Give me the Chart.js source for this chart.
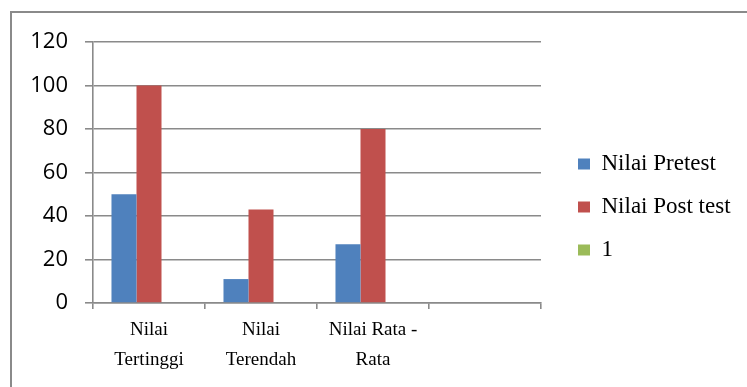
<!DOCTYPE html>
<html>
<head>
<meta charset="utf-8">
<script src="https://cdn.jsdelivr.net/npm/chart.js@4.4.0/dist/chart.umd.min.js"></script>
<style>
    body { margin: 0; background: #fff; overflow: hidden; }
    #frame {
        position: absolute; left: 10px; top: 11px; width: 800px; height: 420px;
        border-top: 2px solid #8a8a8a; border-left: 2px solid #8a8a8a;
    }
    #myChart { position: absolute; left: 0; top: 0; }
</style>
</head>
<body>
<div id="frame"></div>
<canvas id="myChart" width="747" height="387"></canvas>
<script>
// Chart data
const categories = [['Nilai', 'Tertinggi'], ['Nilai', 'Terendah'], ['Nilai Rata -', 'Rata'], ''];
const pretest = [50, 11, 27, null];
const posttest = [100, 43, 80, null];
const seriesOne = [null, null, null, null];
const yTicks = [0, 20, 40, 60, 80, 100, 120];

const gridGrey = '#8a8a8a';

function drawChart() {
    const ctx = document.getElementById('myChart').getContext('2d');
    const chart = new Chart(ctx, {
        type: 'bar',
        data: {
            labels: categories,
            datasets: [
                { label: 'Nilai Pretest', backgroundColor: '#4f81bd', data: pretest },
                { label: 'Nilai Post test', backgroundColor: '#c0504d', data: posttest },
                { label: '1', backgroundColor: '#9bbb59', data: seriesOne }
            ]
        },
        options: {
            responsive: false,
            animation: false,
            devicePixelRatio: 1,
            categoryPercentage: 0.67,
            barPercentage: 1,
            layout: { padding: { top: 42, bottom: 15, left: 0, right: 7 } },
            plugins: {
                tooltip: { enabled: false },
                legend: {
                    position: 'right',
                    maxWidth: 182,
                    labels: {
                        boxWidth: 12,
                        boxHeight: 11,
                        padding: 20,
                        color: '#000',
                        font: { family: '"Liberation Serif", "Times New Roman", serif', size: 23 }
                    }
                }
            },
            scales: {
                x: {
                    grid: { drawOnChartArea: false, drawTicks: true, tickLength: 6, color: gridGrey, lineWidth: 1.6 },
                    border: { display: true, color: gridGrey, width: 1.6 },
                    ticks: {
                        color: '#000',
                        padding: 6,
                        maxRotation: 0,
                        autoSkip: false,
                        font: { family: '"Liberation Serif", "Times New Roman", serif', size: 19, lineHeight: 1.58 }
                    },
                    afterFit: (scale) => { scale.height = 69; }
                },
                y: {
                    min: 0,
                    max: 120,
                    afterBuildTicks: (scale) => { scale.ticks = yTicks.map((v) => ({ value: v })); },
                    grid: { tickLength: 8, color: gridGrey, lineWidth: 1.6 },
                    border: { display: true, color: gridGrey, width: 1.6 },
                    ticks: {
                        color: '#000',
                        padding: 17,
                        font: { family: '"Open Sans", "Liberation Sans", sans-serif', size: 22 }
                    },
                    afterFit: (scale) => { scale.width = 93; }
                },
                // empty spacer between the plot and the legend
                spacer: {
                    type: 'linear',
                    position: 'right',
                    grid: { display: false },
                    border: { display: false },
                    ticks: { display: false },
                    afterFit: (scale) => { scale.width = 17; }
                }
            }
        }
    });
}

drawChart();
</script>
</body>
</html>
